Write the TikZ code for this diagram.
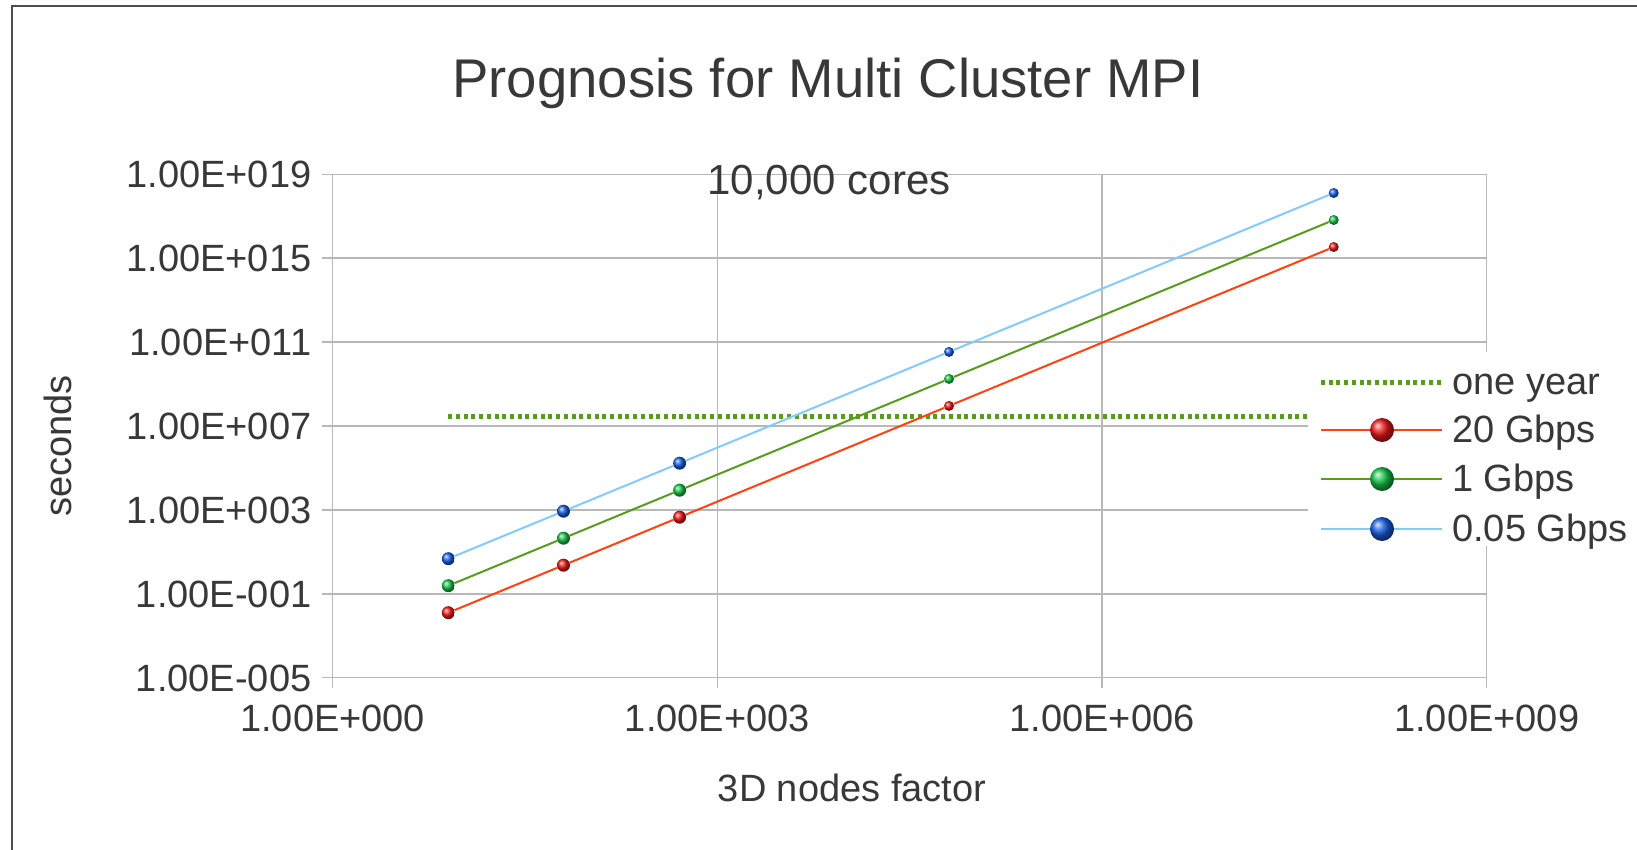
\documentclass[tikz,border=0pt]{standalone}
\usepackage{fontspec}
\setmainfont{Liberation Sans}
\definecolor{txt}{HTML}{383838}
\definecolor{grid}{HTML}{B8B8B8}
\definecolor{frame}{HTML}{4D4D4D}
\definecolor{sred}{HTML}{FF420E}
\definecolor{sgreen}{HTML}{579D1C}
\definecolor{sblue}{HTML}{83CAFF}
\definecolor{bred}{HTML}{F01818}
\definecolor{bgreen}{HTML}{18C848}
\definecolor{bblue}{HTML}{1860E8}
\tikzset{
  lbl/.style={inner sep=0pt, text=txt, font=\fontsize{38}{40}\selectfont},
  gridline/.style={draw=grid, line width=1.5pt},
  series/.style={line width=2pt},
  yearline/.style={sgreen, line width=5pt, dash pattern=on 4pt off 3.7pt},
  ball/.style={circle, inner sep=0pt, shading=ball, minimum size=#1},
  ball/.default=13pt
}
\begin{document}
\begin{tikzpicture}[x=1pt,y=-1pt]
\useasboundingbox (0,0) rectangle (1637,850);
\fill[white] (0,0) rectangle (1637,850);
% outer chart frame
\draw[frame, line width=1.5pt] (12,850) -- (12,6) -- (1637,6);
% title
\node[lbl, anchor=base, font=\fontsize{54.5}{56}\selectfont] (title) at (828,97.5) {Prognosis for Multi Cluster MPI};
% grid
\foreach \k in {0,...,6} {
  \draw[gridline] (321.7,{174.3+83.9*\k}) -- (1486.7,{174.3+83.9*\k});
}
\foreach \xx in {332.7,717.4,1102,1486.7} {
  \draw[gridline] (\xx,174.3) -- (\xx,688);
}
% y labels
\foreach \k/\t in {0/1.00E+019,1/1.00E+015,2/1.00E+011,3/1.00E+007,4/1.00E+003,5/1.00E-001,6/1.00E-005} {
  \node[lbl, anchor=base east] (ylab\k) at (311.5,{174.3+83.9*\k+13.6}) {\t};
}
% x labels
\node[lbl, anchor=base] (xl0) at (332.7,731.5) {1.00E+000};
\node[lbl, anchor=base] (xl1) at (717.4,731.5) {1.00E+003};
\node[lbl, anchor=base] (xl2) at (1102,731.5) {1.00E+006};
\node[lbl, anchor=base] (xl3) at (1486.7,731.5) {1.00E+009};
% axis titles
\node[lbl, anchor=base] (xtitle) at (852,801.6) {3D nodes factor};
\node[lbl, anchor=base, rotate=90] (ytitle) at (71.5,446) {seconds};
\node[lbl, anchor=base, font=\fontsize{42}{44}\selectfont] (sub) at (829,195) {10,000 cores};
% one year dotted line
\coordinate (oy1) at (448.3,416);
\coordinate (oy2) at (1333.7,416);
\draw[yearline] (oy1) -- (oy2);
% series markers
\node[ball=13pt, ball color=bred] (r1) at (448.3,612.7) {};
\node[ball=13pt, ball color=bred] (r2) at (563.5,565.2) {};
\node[ball=13pt, ball color=bred] (r3) at (679.6,517.2) {};
\node[ball=10pt, ball color=bred] (r4) at (949,405.9) {};
\node[ball=10pt, ball color=bred] (r5) at (1333.7,247) {};
\node[ball=13pt, ball color=bgreen] (g1) at (448.3,585.7) {};
\node[ball=13pt, ball color=bgreen] (g2) at (563.5,538.2) {};
\node[ball=13pt, ball color=bgreen] (g3) at (679.6,490.2) {};
\node[ball=10pt, ball color=bgreen] (g4) at (949,378.9) {};
\node[ball=10pt, ball color=bgreen] (g5) at (1333.7,220) {};
\node[ball=13pt, ball color=bblue] (b1) at (448.3,558.7) {};
\node[ball=13pt, ball color=bblue] (b2) at (563.5,511.2) {};
\node[ball=13pt, ball color=bblue] (b3) at (679.6,463.2) {};
\node[ball=10pt, ball color=bblue] (b4) at (949,351.9) {};
\node[ball=10pt, ball color=bblue] (b5) at (1333.7,193) {};
\draw[series, sred] (r1) -- (r2) -- (r3) -- (r4) -- (r5);
\draw[series, sgreen] (g1) -- (g2) -- (g3) -- (g4) -- (g5);
\draw[series, sblue] (b1) -- (b2) -- (b3) -- (b4) -- (b5);
% legend
\fill[white] (1308,352) rectangle (1637,546);
\coordinate (l1a) at (1321,382); \coordinate (l1b) at (1442,382);
\draw[yearline] (l1a) -- (l1b);
\node[lbl, anchor=base west] (lt1) at (1452,394) {one year};
\node[ball=24pt, ball color=bred] (lm2) at (1382,430) {};
\coordinate (l2a) at (1321,430); \coordinate (l2b) at (1442,430);
\draw[series, sred] (l2a) -- (lm2) -- (l2b);
\node[lbl, anchor=base west] (lt2) at (1452,442) {20 Gbps};
\node[ball=24pt, ball color=bgreen] (lm3) at (1382,479) {};
\coordinate (l3a) at (1321,479); \coordinate (l3b) at (1442,479);
\draw[series, sgreen] (l3a) -- (lm3) -- (l3b);
\node[lbl, anchor=base west] (lt3) at (1452,491) {1 Gbps};
\node[ball=24pt, ball color=bblue] (lm4) at (1382,529) {};
\coordinate (l4a) at (1321,529); \coordinate (l4b) at (1442,529);
\draw[series, sblue] (l4a) -- (lm4) -- (l4b);
\node[lbl, anchor=base west] (lt4) at (1452,541.5) {0.05 Gbps};
\end{tikzpicture}
\end{document}
